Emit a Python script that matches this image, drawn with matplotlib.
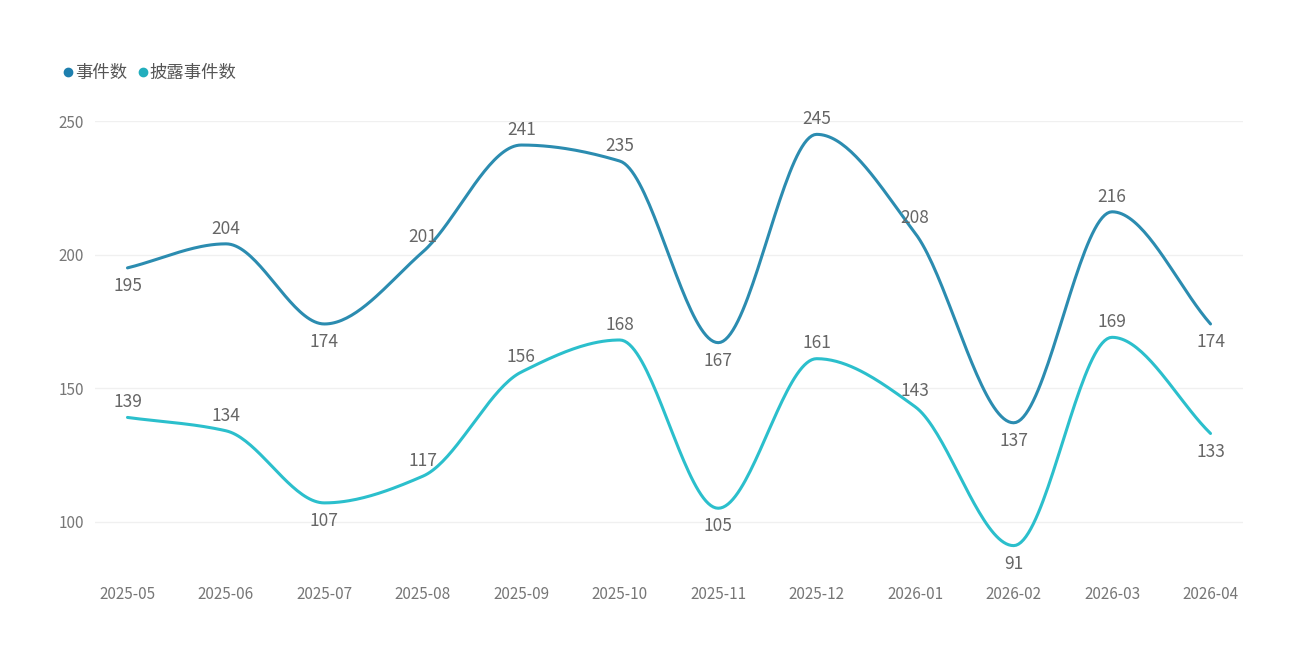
import numpy as np
import matplotlib
matplotlib.use("Agg")
import matplotlib.pyplot as plt

plt.rcParams['font.family'] = ['Noto Sans CJK SC', 'DejaVu Sans']

months = ["2025-05", "2025-06", "2025-07", "2025-08", "2025-09", "2025-10",
          "2025-11", "2025-12", "2026-01", "2026-02", "2026-03", "2026-04"]
events = [195, 204, 174, 201, 241, 235, 167, 245, 208, 137, 216, 174]
disclosed = [139, 134, 107, 117, 156, 168, 105, 161, 143, 91, 169, 133]
events_pos = ["b", "a", "b", "a", "a", "a", "b", "a", "a", "b", "a", "b"]
disclosed_pos = ["a", "a", "b", "a", "a", "a", "b", "a", "a", "b", "a", "b"]


def smooth(y, n=40):
    # monotone cubic (Fritsch-Carlson) through the points, no overshoot
    y = np.asarray(y, float)
    d = np.diff(y)
    m = np.zeros_like(y)
    for i in range(1, len(y) - 1):
        if d[i - 1] * d[i] > 0:
            m[i] = 2 / (1 / d[i - 1] + 1 / d[i])
    m[0], m[-1] = d[0], d[-1]
    xs, ys = [], []
    for i in range(len(y) - 1):
        s = np.linspace(0, 1, n, endpoint=False)
        h00 = 2 * s**3 - 3 * s**2 + 1
        h10 = s**3 - 2 * s**2 + s
        h01 = -2 * s**3 + 3 * s**2
        h11 = s**3 - s**2
        xs.append(i + s)
        ys.append(h00 * y[i] + h10 * m[i] + h01 * y[i + 1] + h11 * m[i + 1])
    xs.append([len(y) - 1])
    ys.append([y[-1]])
    return np.concatenate(xs), np.concatenate(ys)


fig = plt.figure(figsize=(12.94, 6.55), dpi=100)
ax = fig.add_axes([95 / 1294, 80 / 655, 1148 / 1294, 454 / 655])

c1, c2 = "#2b8cb0", "#2bbfcc"
x = np.arange(len(months))
for vals, pos, col, name in [(events, events_pos, c1, "事件数"),
                             (disclosed, disclosed_pos, c2, "披露事件数")]:
    sx, sy = smooth(vals)
    ax.plot(sx, sy, color=col, lw=2.2, label=name, solid_capstyle="round")
    for xi, v, p in zip(x, vals, pos):
        off = 11 if p == "a" else -13
        ax.annotate(str(v), (xi, v), xytext=(0, off), textcoords="offset points",
                    ha="center", va="center", fontsize=12.5, color="#666666")

ax.set_xlim(-0.33, 11.33)
ax.set_ylim(80, 250)
ax.set_yticks([100, 150, 200, 250])
ax.set_xticks(x)
ax.set_xticklabels(months)
ax.tick_params(length=0, labelsize=11, labelcolor="#777777", pad=8)
ax.grid(axis="y", color="#f0f0f0", lw=1)
for s in ax.spines.values():
    s.set_visible(False)

h = [plt.Line2D([], [], marker="o", ls="", color=c, markersize=6) for c in ("#1e7fae", "#22aebd")]
fig.legend(h, ["事件数", "披露事件数"], loc="upper left", bbox_to_anchor=(42 / 1294, 1 - 48 / 655),
           frameon=False, ncol=2, fontsize=12.5, handletextpad=-0.2, columnspacing=0.3,
           handlelength=1.2, labelcolor="#555555")

fig.savefig("out.png", dpi=100)
